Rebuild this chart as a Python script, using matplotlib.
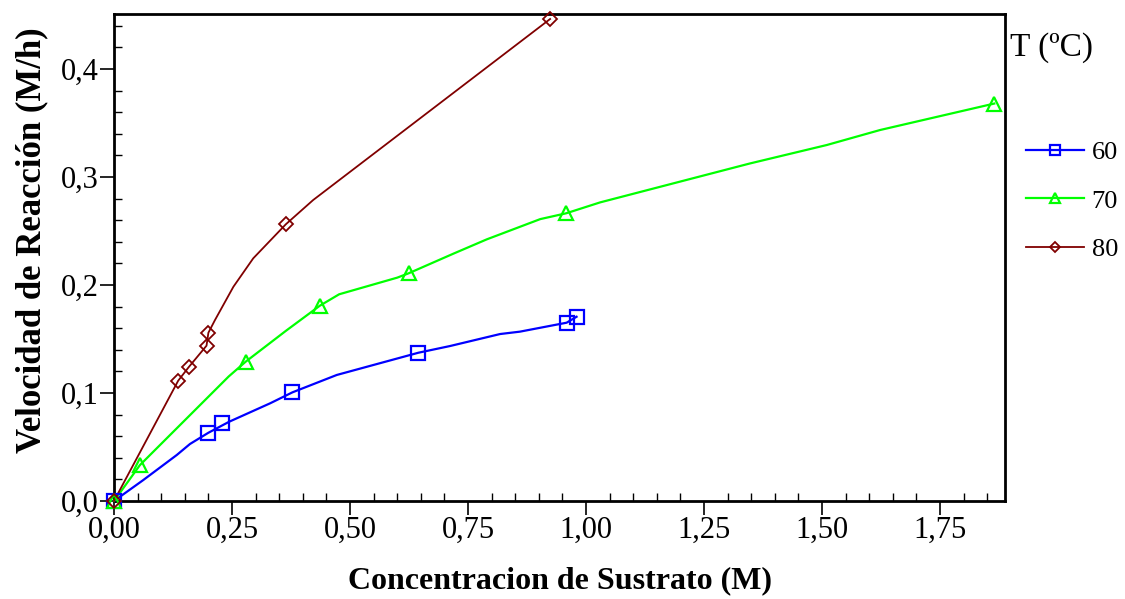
import matplotlib
matplotlib.use("Agg")
import matplotlib.pyplot as plt
from matplotlib.ticker import MultipleLocator, FuncFormatter

# ---- data ----
labels = ["60", "70", "80"]

# measured points (markers)
x60 = [0.0, 0.200, 0.229, 0.378, 0.645, 0.959, 0.980]
y60 = [0.0, 0.0632, 0.0719, 0.1006, 0.1373, 0.1651, 0.1706]

x70 = [0.0, 0.055, 0.279, 0.436, 0.624, 0.958, 1.865]
y70 = [0.0, 0.0333, 0.129, 0.1808, 0.2108, 0.2664, 0.368]

x80 = [0.0, 0.136, 0.158, 0.196, 0.200, 0.364, 0.924]
y80 = [0.0, 0.1114, 0.1238, 0.1438, 0.1558, 0.2562, 0.4463]

# drawn curves
cx60 = [0.0, 0.062, 0.133, 0.161, 0.200, 0.244, 0.331, 0.378, 0.472, 0.645, 0.712, 0.818, 0.860, 0.959, 0.980]
cy60 = [0.0, 0.0194, 0.0426, 0.0528, 0.0632, 0.0734, 0.0905, 0.1006, 0.1167, 0.1373, 0.1435, 0.1546, 0.1568, 0.1651, 0.1706]

cx70 = [0.0, 0.055, 0.243, 0.279, 0.364, 0.436, 0.477, 0.600, 0.624, 0.719, 0.790, 0.903, 0.958, 1.030, 1.347, 1.510, 1.623, 1.865]
cy70 = [0.0, 0.0333, 0.1153, 0.129, 0.1575, 0.1808, 0.1914, 0.2068, 0.2108, 0.2290, 0.2423, 0.2610, 0.2664, 0.2765, 0.3125, 0.3296, 0.3435, 0.368]

cx80 = [0.0, 0.136, 0.158, 0.196, 0.200, 0.214, 0.253, 0.295, 0.364, 0.422, 0.924]
cy80 = [0.0, 0.1114, 0.1238, 0.1438, 0.1558, 0.1676, 0.1984, 0.2247, 0.2562, 0.2787, 0.4463]

xticks = [0.0, 0.25, 0.50, 0.75, 1.00, 1.25, 1.50, 1.75]
yticks = [0.0, 0.1, 0.2, 0.3, 0.4]

plt.rcParams['font.family'] = ['Liberation Serif', 'DejaVu Serif']

fig = plt.figure(figsize=(11.25, 5.99), dpi=100)
ax = fig.add_axes([114/1125, 1-501/599, (1005-114)/1125, (501-14)/599])

styles = [
    dict(color='#0000FF', marker='s', ms=10, mew=1.6, lw=1.6),
    dict(color='#00FF00', marker='^', ms=10, mew=1.6, lw=1.6),
    dict(color='#800000', marker='D', ms=7, mew=1.3, lw=1.3),
]
series = [(cx60, cy60, x60, y60), (cx70, cy70, x70, y70), (cx80, cy80, x80, y80)]

handles = []
for (cx, cy, px, py), st, lab in zip(series, styles, labels):
    ax.plot(cx, cy, color=st['color'], lw=st['lw'], clip_on=False, zorder=3)
    ax.plot(px, py, linestyle='none', marker=st['marker'], ms=st['ms'], mew=st['mew'],
            mfc='none', mec=st['color'], clip_on=False, zorder=4)
    h, = ax.plot([], [], color=st['color'], lw=st['lw'], marker=st['marker'],
                 ms=st['ms'] * 0.7, mew=st['mew'], mfc='none', mec=st['color'], label=lab)
    handles.append(h)

ax.set_xlim(0, (1005-114)/472)
ax.set_ylim(0, (501-14)/1080)

ax.set_xticks(xticks)
ax.set_yticks(yticks)
ax.xaxis.set_minor_locator(MultipleLocator(0.05))
ax.yaxis.set_minor_locator(MultipleLocator(0.02))
ax.xaxis.set_major_formatter(FuncFormatter(lambda v, p: f"{v:.2f}".replace('.', ',')))
ax.yaxis.set_major_formatter(FuncFormatter(lambda v, p: f"{v:.1f}".replace('.', ',')))

ax.tick_params(axis='both', which='major', direction='out', length=10, width=1.2,
               labelsize=22, pad=1, top=False, right=False)
ax.tick_params(axis='both', which='minor', direction='in', length=6, width=1.0,
               top=False, right=False)
for s in ax.spines.values():
    s.set_linewidth(2)

ax.set_xlabel("Concentracion de Sustrato (M)", fontsize=23, fontweight='bold', labelpad=15)
ax.set_ylabel("Velocidad de Reacción (M/h)", fontsize=25, fontweight='bold')
ax.yaxis.set_label_coords(-0.074, 0.536)

fig.text(1010/1125, 1-48/599, "T (ºC)", fontsize=24, ha='left', va='center')
fig.legend(handles=handles, loc='upper left', bbox_to_anchor=(1015/1125, 1-130/599),
           frameon=False, fontsize=19, handlelength=2.2, handletextpad=0.3,
           labelspacing=0.95, borderaxespad=0)

fig.savefig("out.png", dpi=100)
